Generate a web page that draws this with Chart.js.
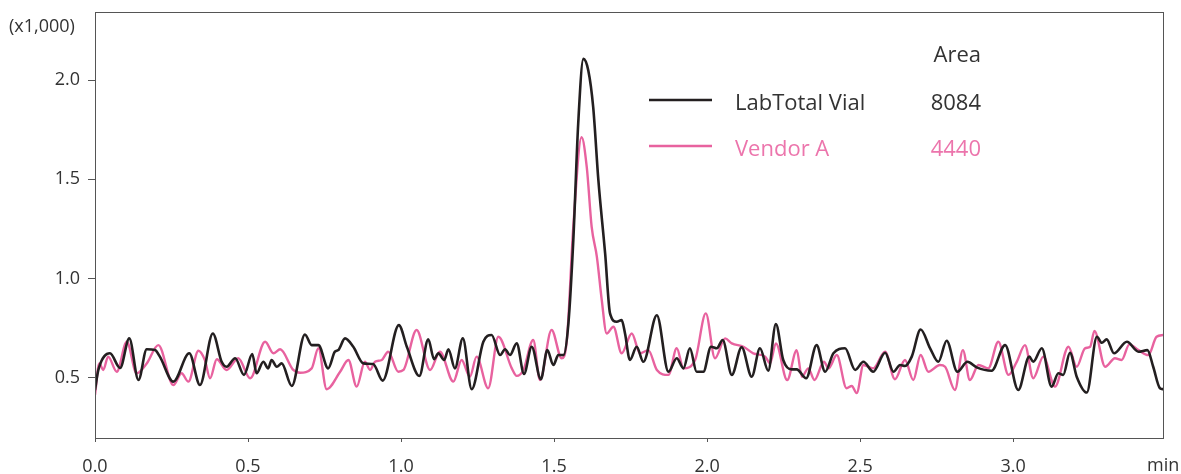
<!DOCTYPE html>
<html>
<head>
<meta charset="utf-8">
<script src="https://cdn.jsdelivr.net/npm/chart.js@4/dist/chart.umd.min.js"></script>
<style>
  html,body{margin:0;padding:0;background:#fff;}
  canvas{display:block;}
</style>
</head>
<body>
<canvas id="c" width="1181" height="474"></canvas>
<script>
// ---- Data (retention time in min, signal in x1,000) ----
const labTimes = [0.000,0.011,0.049,0.082,0.112,0.142,0.169,0.196,0.212,0.256,0.308,0.343,0.385,0.414,0.430,0.458,0.487,0.514,0.528,0.550,0.566,0.577,0.594,0.610,0.643,0.686,0.708,0.730,0.762,0.784,0.795,0.817,0.844,0.877,0.909,0.940,0.993,1.019,1.060,1.089,1.108,1.122,1.141,1.155,1.176,1.202,1.231,1.269,1.296,1.324,1.340,1.356,1.378,1.402,1.427,1.457,1.478,1.498,1.514,1.531,1.547,1.563,1.579,1.596,1.612,1.628,1.645,1.667,1.683,1.705,1.721,1.732,1.748,1.770,1.792,1.836,1.874,1.901,1.923,1.944,1.966,1.988,2.013,2.032,2.051,2.081,2.113,2.146,2.173,2.200,2.225,2.249,2.277,2.293,2.324,2.358,2.386,2.413,2.451,2.484,2.511,2.543,2.582,2.609,2.631,2.647,2.669,2.698,2.729,2.756,2.783,2.818,2.851,2.881,2.930,2.974,3.017,3.053,3.066,3.094,3.126,3.148,3.164,3.186,3.208,3.241,3.274,3.290,3.306,3.330,3.372,3.410,3.439,3.458,3.480,3.491];
const labValues = [0.438,0.539,0.623,0.549,0.698,0.488,0.643,0.639,0.606,0.480,0.623,0.463,0.723,0.580,0.555,0.598,0.514,0.619,0.522,0.580,0.547,0.589,0.555,0.572,0.458,0.718,0.664,0.664,0.547,0.631,0.639,0.698,0.656,0.572,0.569,0.485,0.765,0.656,0.509,0.693,0.593,0.623,0.589,0.643,0.547,0.698,0.442,0.681,0.715,0.614,0.643,0.614,0.673,0.519,0.656,0.492,0.639,0.564,0.614,0.614,0.774,1.193,1.780,2.107,2.048,1.863,1.494,1.126,0.824,0.782,0.790,0.723,0.589,0.656,0.580,0.815,0.530,0.598,0.547,0.648,0.530,0.530,0.656,0.648,0.690,0.514,0.653,0.505,0.648,0.535,0.770,0.589,0.542,0.542,0.497,0.664,0.530,0.623,0.648,0.539,0.580,0.530,0.626,0.530,0.564,0.559,0.606,0.743,0.648,0.580,0.686,0.530,0.580,0.552,0.535,0.664,0.438,0.606,0.580,0.648,0.455,0.522,0.514,0.626,0.505,0.425,0.706,0.676,0.693,0.623,0.681,0.631,0.639,0.555,0.447,0.442];

const vendorTimes = [0.000,0.014,0.027,0.043,0.071,0.104,0.136,0.169,0.207,0.256,0.283,0.305,0.338,0.359,0.376,0.398,0.430,0.468,0.507,0.556,0.583,0.605,0.648,0.670,0.708,0.730,0.757,0.801,0.828,0.855,0.882,0.899,0.915,0.937,0.958,0.991,1.008,1.051,1.095,1.127,1.171,1.198,1.225,1.247,1.285,1.318,1.362,1.378,1.400,1.432,1.454,1.492,1.525,1.542,1.563,1.590,1.607,1.623,1.640,1.656,1.672,1.694,1.721,1.754,1.781,1.808,1.836,1.874,1.901,1.923,1.961,1.996,2.026,2.059,2.081,2.119,2.151,2.190,2.206,2.225,2.262,2.293,2.310,2.331,2.351,2.382,2.397,2.424,2.456,2.473,2.489,2.511,2.543,2.582,2.614,2.647,2.674,2.698,2.723,2.761,2.778,2.810,2.836,2.859,2.887,2.919,2.952,2.985,3.012,3.039,3.066,3.099,3.137,3.181,3.208,3.235,3.252,3.266,3.301,3.333,3.355,3.380,3.410,3.442,3.469,3.491];
const vendorValues = [0.413,0.572,0.539,0.606,0.530,0.681,0.522,0.572,0.664,0.463,0.522,0.480,0.636,0.589,0.497,0.593,0.539,0.598,0.497,0.681,0.623,0.643,0.539,0.525,0.547,0.648,0.442,0.530,0.589,0.455,0.580,0.539,0.580,0.589,0.631,0.530,0.539,0.740,0.539,0.631,0.480,0.589,0.505,0.606,0.447,0.706,0.547,0.509,0.539,0.690,0.488,0.740,0.598,0.690,1.260,1.712,1.561,1.260,1.109,0.891,0.723,0.757,0.623,0.723,0.623,0.639,0.539,0.514,0.648,0.547,0.589,0.824,0.598,0.698,0.673,0.656,0.623,0.606,0.572,0.673,0.488,0.639,0.505,0.547,0.488,0.580,0.547,0.614,0.447,0.458,0.422,0.564,0.547,0.631,0.492,0.589,0.488,0.614,0.530,0.564,0.555,0.438,0.639,0.488,0.564,0.547,0.681,0.514,0.580,0.664,0.497,0.606,0.455,0.656,0.555,0.648,0.656,0.736,0.555,0.598,0.589,0.668,0.639,0.614,0.706,0.715];

const seriesNames = ["LabTotal Vial", "Vendor A"];
const seriesAreas = ["8084", "4440"];
const areaHeader = "Area";
const xTickValues = [0.0, 0.5, 1.0, 1.5, 2.0, 2.5, 3.0];
const yTickValues = [0.5, 1.0, 1.5, 2.0];
const yUnitLabel = "(x1,000)";
const xUnitLabel = "min";

// ---- Styles ----
const BLACK = "#231f20";
const PINK = "#e8629f";
const PINK_TEXT = "#ec75ac";
const TEXT = "#333333";
const AXIS = "#555555";
const FONT = "'Open Sans', 'Noto Sans', sans-serif";

const toXY = (t, v) => t.map((x, i) => ({x: x, y: v[i]}));

const framePlugin = {
  id: 'frame',
  afterDraw(chart) {
    const {ctx, chartArea: a} = chart;
    ctx.save();
    ctx.strokeStyle = AXIS;
    ctx.lineWidth = 1;
    ctx.strokeRect(Math.round(a.left) + 0.5, Math.round(a.top) + 0.5,
                   Math.round(a.right - a.left), Math.round(a.bottom - a.top));
    // unit labels
    ctx.fillStyle = TEXT;
    ctx.font = "18px " + FONT;
    ctx.textBaseline = "middle";
    ctx.textAlign = "left";
    ctx.fillText(yUnitLabel, 9, 27);
    ctx.fillText(xUnitLabel, 1147, 466);
    // legend
    const colors = [BLACK, PINK];
    const textColors = [TEXT, PINK_TEXT];
    const rowsY = [104, 150];
    ctx.font = "22px " + FONT;
    ctx.textAlign = "right";
    ctx.fillStyle = TEXT;
    ctx.fillText(areaHeader, 981, 56);
    for (let i = 0; i < seriesNames.length; i++) {
      const y = rowsY[i];
      ctx.strokeStyle = colors[i];
      ctx.lineWidth = 2.5;
      ctx.beginPath();
      ctx.moveTo(649, y - 4);
      ctx.lineTo(712, y - 4);
      ctx.stroke();
      ctx.fillStyle = textColors[i];
      ctx.textAlign = "left";
      ctx.fillText(seriesNames[i], 735, y);
      ctx.textAlign = "right";
      ctx.fillText(seriesAreas[i], 981, y);
    }
    ctx.restore();
  }
};

new Chart(document.getElementById('c'), {
  type: 'line',
  data: {
    datasets: [
      {label: seriesNames[0], data: toXY(labTimes, labValues), borderColor: BLACK, borderWidth: 2.6,
       pointRadius: 0, cubicInterpolationMode: 'monotone', fill: false},
      {label: seriesNames[1], data: toXY(vendorTimes, vendorValues), borderColor: PINK, borderWidth: 2.4,
       pointRadius: 0, cubicInterpolationMode: 'monotone', fill: false}
    ]
  },
  options: {
    responsive: false,
    animation: false,
    devicePixelRatio: 1,
    layout: {padding: {left: 0, top: 12, right: 18, bottom: 0}},
    plugins: {legend: {display: false}, tooltip: {enabled: false}},
    scales: {
      x: {
        type: 'linear', min: 0, max: 3.49,
        afterBuildTicks: s => { s.ticks = xTickValues.map(v => ({value: v})); },
        afterFit: s => { s.height = 36; s.paddingLeft = 0; s.paddingRight = 0; },
        ticks: {callback: v => Number(v).toFixed(1), color: TEXT, font: {family: FONT, size: 18}, padding: 14, maxRotation: 0},
        grid: {drawOnChartArea: false, drawTicks: true, tickLength: 4, color: AXIS},
        border: {display: true, color: AXIS}
      },
      y: {
        min: 0.196, max: 2.343,
        afterBuildTicks: s => { s.ticks = yTickValues.map(v => ({value: v})); },
        afterFit: s => { s.width = 95; s.paddingTop = 0; s.paddingBottom = 0; },
        ticks: {callback: v => Number(v).toFixed(1), color: TEXT, font: {family: FONT, size: 18}, padding: 8},
        grid: {drawOnChartArea: false, drawTicks: true, tickLength: 7, color: AXIS},
        border: {display: true, color: AXIS}
      }
    }
  },
  plugins: [framePlugin]
});
</script>
</body>
</html>
